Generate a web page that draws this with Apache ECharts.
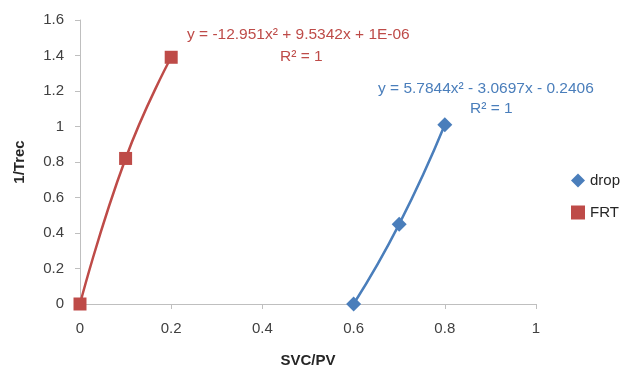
<!DOCTYPE html>
<html>
<head>
<meta charset="utf-8">
<script src="https://cdn.jsdelivr.net/npm/echarts@6/dist/echarts.min.js"></script>
<style>
    html, body { margin: 0; padding: 0; background: #fff; }
    #chart { width: 632px; height: 367px; }
</style>
</head>
<body>
<div id="chart"></div>
<script>
// 数据
const dropX = [0.6, 0.7, 0.8];
const dropY = [0, 0.45, 1.01];
const frtX = [0, 0.1, 0.2];
const frtY = [0, 0.82, 1.39];
const dropEq = 'y = 5.7844x² - 3.0697x - 0.2406';
const frtEq = 'y = -12.951x² + 9.5342x + 1E-06';
const r2Text = 'R² = 1';

const BLUE = '#4a7ebb';
const RED = '#be4b48';
const FONT = 'Liberation Sans';

function toPoints(xs, ys) {
    let pts = [];
    for (let i = 0; i < xs.length; i++) {
        pts.push([xs[i], ys[i]]);
    }
    return pts;
}

let chart = echarts.init(document.getElementById('chart'));

let option = {
    animation: false,
    textStyle: { fontFamily: FONT },
    grid: { left: 80, right: 96, top: 20, bottom: 63, outerBoundsMode: 'none', containLabel: false },
    xAxis: {
        type: 'value',
        min: 0, max: 1, interval: 0.2,
        name: 'SVC/PV',
        nameLocation: 'middle',
        nameGap: 49,
        nameTextStyle: { fontWeight: 'bold', fontSize: 15, color: '#262626', fontFamily: FONT },
        axisLine: { show: true, lineStyle: { color: '#bfbfbf' } },
        axisTick: { show: true, length: 5, lineStyle: { color: '#bfbfbf' } },
        splitLine: { show: false },
        axisLabel: { color: '#404040', fontSize: 15, margin: 17, fontFamily: FONT }
    },
    yAxis: {
        type: 'value',
        min: 0, max: 1.6, interval: 0.2,
        name: '1/Trec',
        nameLocation: 'middle',
        nameGap: 53,
        nameTextStyle: { fontWeight: 'bold', fontSize: 15, color: '#262626', fontFamily: FONT },
        axisLine: { show: true, lineStyle: { color: '#bfbfbf' } },
        axisTick: { show: true, length: 5, lineStyle: { color: '#bfbfbf' } },
        splitLine: { show: false },
        axisLabel: { color: '#404040', fontSize: 15, margin: 16, fontFamily: FONT }
    },
    legend: {
        orient: 'vertical',
        left: 566, top: 168,
        itemGap: 17,
        itemWidth: 14, itemHeight: 14,
        textStyle: { color: '#262626', fontSize: 15, fontFamily: FONT },
        data: ['drop', 'FRT']
    },
    series: [
        // 趋势线
        {
            name: 'drop-trend', type: 'line', smooth: true, showSymbol: false,
            data: toPoints(dropX, dropY),
            lineStyle: { color: BLUE, width: 2.5 }, z: 2
        },
        {
            name: 'FRT-trend', type: 'line', smooth: true, showSymbol: false,
            data: toPoints(frtX, frtY),
            lineStyle: { color: RED, width: 2.5 }, z: 2
        },
        // 数据点
        {
            name: 'drop', type: 'scatter', symbol: 'diamond', symbolSize: 15,
            data: toPoints(dropX, dropY),
            itemStyle: { color: BLUE, opacity: 1 }, z: 3
        },
        {
            name: 'FRT', type: 'scatter', symbol: 'rect', symbolSize: 13,
            data: toPoints(frtX, frtY),
            itemStyle: { color: RED, opacity: 1 }, z: 3
        }
    ],
    graphic: [
        { type: 'text', left: 187, top: 27, style: { text: frtEq, fill: RED, font: '15.5px ' + FONT } },
        { type: 'text', left: 280, top: 49, style: { text: r2Text, fill: RED, font: '15.5px ' + FONT } },
        { type: 'text', left: 378, top: 81, style: { text: dropEq, fill: BLUE, font: '15.5px ' + FONT } },
        { type: 'text', left: 470, top: 101, style: { text: r2Text, fill: BLUE, font: '15.5px ' + FONT } }
    ]
};

chart.setOption(option);
</script>
</body>
</html>
